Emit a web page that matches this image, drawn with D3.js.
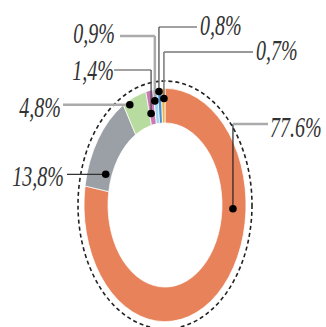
<!DOCTYPE html>
<html>
<head>
<meta charset="utf-8">
<script src="https://cdn.jsdelivr.net/npm/d3@7"></script>
<style>
  html, body { margin: 0; padding: 0; background: #fff; }
  svg { display: block; }
</style>
</head>
<body>
<div id="chart"></div>
<script>
// data, clockwise from 12 o'clock
const categories = ["a", "b", "c", "d", "e", "f", "g"];
const values = [77.6, 13.8, 4.8, 1.4, 0.9, 0.8, 0.7];
const labels = ["77.6%", "13,8%", "4,8%", "1,4%", "0,9%", "0,8%", "0,7%"];
const colors = ["#e8825b", "#9aa0a5", "#b8dc9f", "#c97ab4", "#a3d5f0", "#4a8fcf", "#f0b245"];

// where each leader dot sits (fraction through slice, radius) and where its label goes
const layout = [
  { t: 0.33, r: 68, lineY: 124, tx: 270, ty: 137, anchor: "start", lx: 268, kind: "up" },
  { t: 0.21, r: 63, lineY: null, tx: 64, ty: 186, anchor: "end", lx: 67, kind: "side" },
  { t: 0.24, r: 78, lineY: null, tx: 61, ty: 117, anchor: "end", lx: 63, kind: "side" },
  { t: 0.26, r: 65, lineY: 70, tx: 114, ty: 80, anchor: "end", lx: 114, kind: "up" },
  { t: 0.2, r: 73, lineY: 36, tx: 115, ty: 43, anchor: "end", lx: 120, kind: "up" },
  { t: 0.35, r: 79, lineY: 27, tx: 200, ty: 35, anchor: "start", lx: 197, kind: "up" },
  { t: 0.67, r: 74, lineY: 52, tx: 256, ty: 60, anchor: "start", lx: 253, kind: "up" }
];
// horizontal part / vertical part
const lineStyle = [
  { c: "#aaa", w: 2.5, vc: "#222", vw: 1.2 }, { c: "#333", w: 1.2 }, { c: "#aaa", w: 2.5 },
  { c: "#444", w: 1.2 }, { c: "#aaa", w: 2.5 }, { c: "#444", w: 1.2 }, { c: "#777", w: 1.5 }
];

const width = 326, height = 327;
const cx = 165, cy = 205, sy = 1.44;
const outer = 81, inner = 57;

const svg = d3.select("#chart").append("svg")
  .attr("width", width)
  .attr("height", height);

const pieData = d3.pie().sort(null).value(d => d)(values);
const arc = d3.arc().innerRadius(inner).outerRadius(outer);

// dashed outline
svg.append("ellipse")
  .attr("cx", cx).attr("cy", cy)
  .attr("rx", 87).attr("ry", 124)
  .attr("fill", "none")
  .attr("stroke", "#222")
  .attr("stroke-width", 1.6)
  .attr("stroke-dasharray", "4,3");

svg.append("g")
  .attr("transform", "translate(" + cx + "," + cy + ") scale(1," + sy + ")")
  .selectAll("path").data(pieData).enter()
  .append("path")
  .attr("d", arc)
  .attr("fill", (d, i) => colors[i])
  .attr("stroke", "#fff")
  .attr("stroke-width", 0.6);

const pos = pieData.map((d, i) => {
  const L = layout[i];
  const a = d.startAngle + L.t * (d.endAngle - d.startAngle);
  return [cx + L.r * Math.sin(a), cy - L.r * Math.cos(a) * sy];
});

const leaders = svg.append("g").attr("fill", "none");
pieData.forEach((d, i) => {
  const L = layout[i], p = pos[i], s = lineStyle[i];
  if (L.kind === "side") {
    leaders.append("path").attr("d", d3.line()([[L.lx, p[1]], p]))
      .attr("stroke", s.c).attr("stroke-width", s.w);
    return;
  }
  leaders.append("path").attr("d", d3.line()([[p[0], L.lineY], p]))
    .attr("stroke", s.vc || s.c).attr("stroke-width", s.vw || s.w);
  leaders.append("path").attr("d", d3.line()([[L.lx, L.lineY], [p[0], L.lineY]]))
    .attr("stroke", s.c).attr("stroke-width", s.w);
});

svg.append("g").selectAll("circle").data(pos).enter()
  .append("circle")
  .attr("cx", d => d[0]).attr("cy", d => d[1])
  .attr("r", 3.8)
  .attr("fill", "#000");

svg.append("g").selectAll("text").data(labels).enter()
  .append("text")
  .attr("transform", (d, i) => "translate(" + layout[i].tx + "," + layout[i].ty + ") scale(1," + sy + ")")
  .attr("text-anchor", (d, i) => layout[i].anchor)
  .style("font-family", "'Liberation Serif', 'DejaVu Serif', serif")
  .style("font-style", "italic")
  .style("font-size", "20px")
  .attr("fill", "#333")
  .text(d => d);
</script>
</body>
</html>
